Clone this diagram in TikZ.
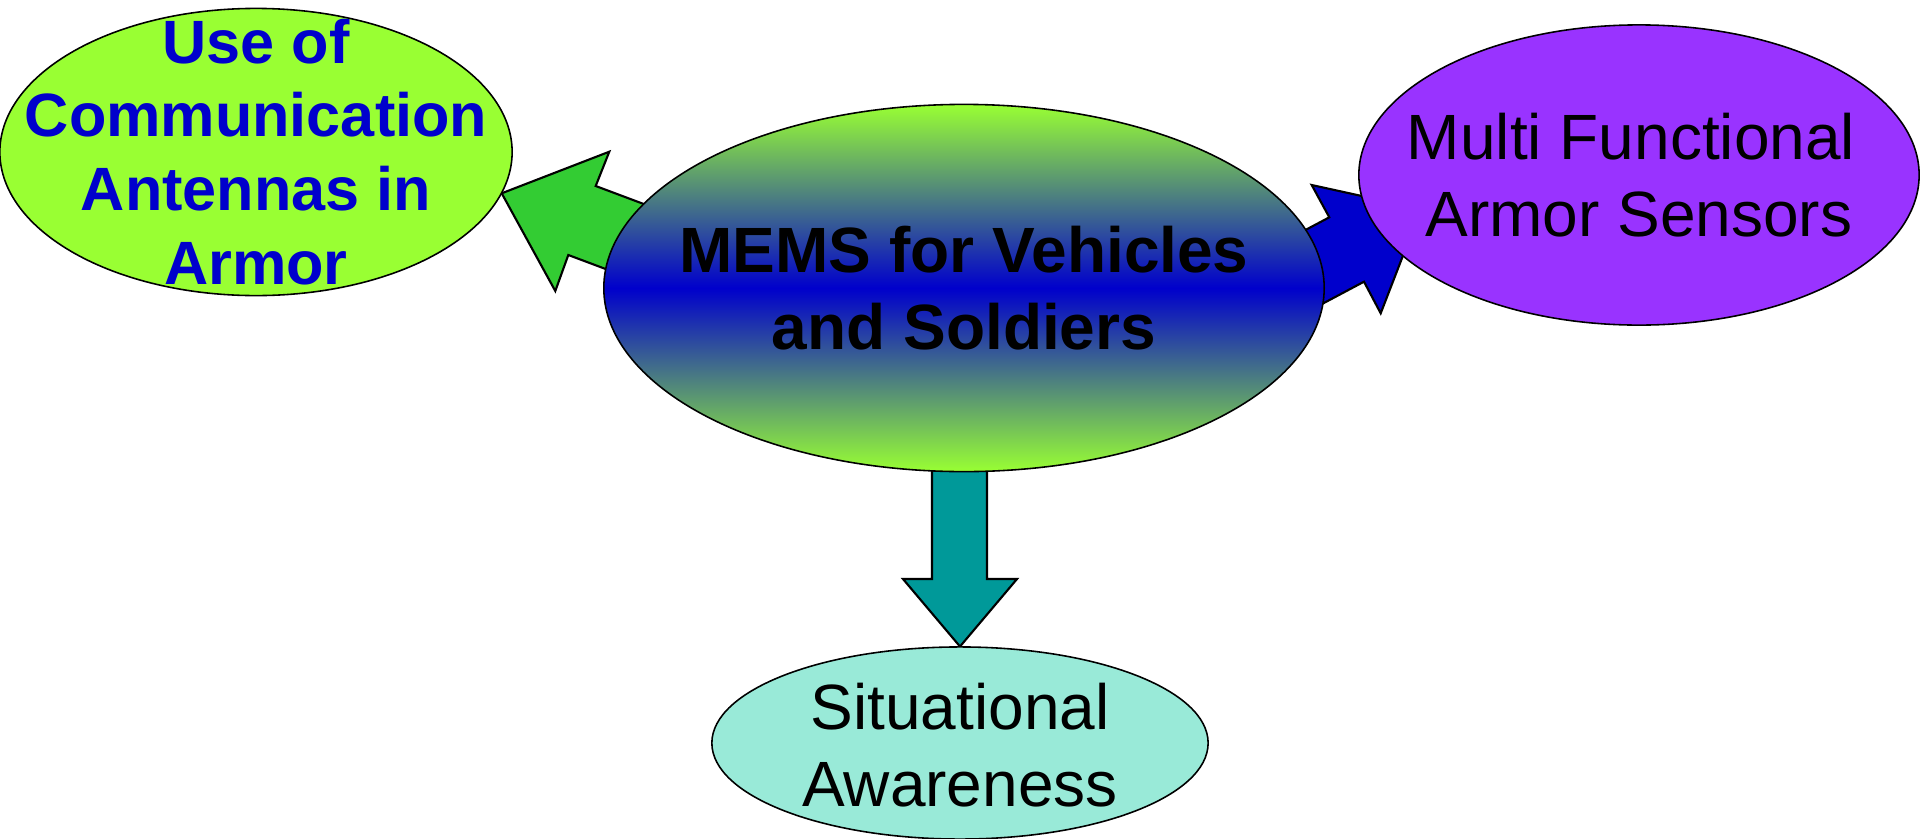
\documentclass[tikz,border=0pt]{standalone}
\usepackage{fontspec}
\setmainfont{Liberation Sans}
\usetikzlibrary{shapes.geometric}
\definecolor{limeg}{RGB}{153,255,51}
\definecolor{deepblue}{RGB}{0,0,204}
\definecolor{violetp}{RGB}{153,51,255}
\definecolor{aquab}{RGB}{153,234,216}
\definecolor{tealar}{RGB}{0,153,153}
\definecolor{greenar}{RGB}{51,204,51}
\begin{document}
\begin{tikzpicture}[x=0.01cm,y=-0.01cm,
  bubble/.style={draw=black,line width=0.45pt},
  label/.style={inner sep=0pt,align=center},
  blockarrow/.style={draw=black,line width=0.6pt,line join=miter}]
\useasboundingbox (0,0) rectangle (1920,839);
% block arrows (drawn beneath the ellipses)
\draw[blockarrow,fill=greenar] (501.7,193.3) -- (609.3,151.7) -- (595.7,186) -- (689,221)
  -- (643,283) -- (568.3,255) -- (555.3,291) -- cycle;
\draw[blockarrow,fill=deepblue] (1421,209) -- (1380.7,313.3) -- (1364,281.7) -- (1293.4,319.2)
  -- (1258.7,254.8) -- (1329.3,217.3) -- (1311.7,185) -- cycle;
\draw[blockarrow,fill=tealar] (932,420) -- (932,579) -- (903,579) -- (960,646.5)
  -- (1017,579) -- (987,579) -- (987,420) -- cycle;
% ellipses
\draw[bubble,fill=limeg] (256,152) ellipse [x radius=2.56cm,y radius=1.435cm];
\draw[bubble,fill=violetp] (1639,175) ellipse [x radius=2.8cm,y radius=1.5cm];
\draw[bubble,fill=aquab] (960,743) ellipse [x radius=2.48cm,y radius=0.96cm];
\draw[bubble,top color=limeg,bottom color=limeg,middle color=deepblue]
  (964,288) ellipse [x radius=3.6cm,y radius=1.835cm];
% texts
\node[label,font=\fontsize{17.4}{21}\selectfont\bfseries,text=deepblue] (use) at (256,152)
  {Use of\\Communication\\Antennas in\\Armor};
\node[label,font=\fontsize{18.2}{21.8}\selectfont] (multi) at (1639,175)
  {Multi Functional\kern4.5pt\\Armor Sensors};
\node[label,font=\fontsize{18.2}{21.8}\selectfont] (sit) at (960,745)
  {Situational\\Awareness};
\node[label,font=\fontsize{18.2}{21.8}\selectfont\bfseries] (mems) at (964,288)
  {MEMS for Vehicles\\and Soldiers};
\end{tikzpicture}
\end{document}
